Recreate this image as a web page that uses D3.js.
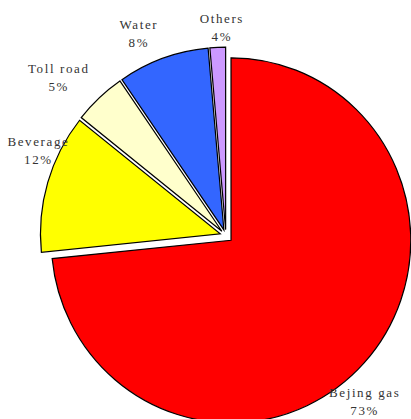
<!DOCTYPE html>
<html>
<head>
<meta charset="utf-8">
<script src="https://cdn.jsdelivr.net/npm/d3@7"></script>
<style>
  body { margin: 0; background: #fff; }
  svg { display: block; }
</style>
</head>
<body>
<div id="chart"></div>
<script>
// slices clockwise from 12 o'clock
const categories = ["Bejing gas", "Beverage", "Toll road", "Water", "Others"];
const shares = [73.4, 12.3, 4.7, 8.2, 1.4];           // share of the circle as drawn
const pctLabels = ["73%", "12%", "5%", "8%", "4%"];   // labels as printed
const colors = ["#FF0000", "#FFFF00", "#FFFFCC", "#3366FF", "#CC99FF"];

const width = 411, height = 419;
const cx = 225.9, cy = 235.6, radius = 182.5;
const squeeze = 0.985; // the original pie is a touch narrower than tall
const explode = [7, 6, 6, 6, 6];

// label placement (degrees from the slice middle, distance from centre)
const labelTurn = [7.9, 8.1, -3.6, -3.5, 1.4];
const labelDist = [216, 206, 230, 220, 208];

const svg = d3.select("#chart")
  .append("svg")
  .attr("width", width)
  .attr("height", height);

const g = svg.append("g")
  .attr("transform", "translate(" + cx + "," + cy + ")");

const pieG = g.append("g")
  .attr("transform", "scale(" + squeeze + ",1)");

const pie = d3.pie().sort(null).value(d => d.value);
const arc = d3.arc().innerRadius(0).outerRadius(radius);

const slices = pie(categories.map((c, i) => ({ name: c, value: shares[i], i: i })));

// polar helper, angle in radians clockwise from up
const polar = (a, r) => [Math.sin(a) * r, -Math.cos(a) * r];

pieG.selectAll(".slice")
  .data(slices)
  .enter().append("path")
  .attr("class", "slice")
  .attr("transform", d => {
    const mid = (d.startAngle + d.endAngle) / 2;
    const p = polar(mid, explode[d.data.i]);
    return "translate(" + p[0] + "," + p[1] + ")";
  })
  .attr("d", arc)
  .attr("vector-effect", "non-scaling-stroke")
  .style("fill", d => colors[d.data.i])
  .style("stroke", "#000")
  .style("stroke-width", 1.2)
  .style("stroke-linejoin", "miter");

// labels
const labels = g.selectAll(".label")
  .data(slices)
  .enter().append("text")
  .attr("class", "label")
  .attr("text-anchor", "middle")
  .style("font-family", "'Liberation Serif', serif")
  .style("font-size", "13px")
  .style("letter-spacing", "1.6px")
  .style("fill", "#333")
  .attr("transform", d => {
    const mid = (d.startAngle + d.endAngle) / 2 + labelTurn[d.data.i] * Math.PI / 180;
    const p = polar(mid, labelDist[d.data.i]);
    return "translate(" + p[0] + "," + p[1] + ")";
  });

labels.append("tspan")
  .attr("x", 0)
  .attr("y", -9)
  .attr("dy", "0.35em")
  .text(d => d.data.name);

labels.append("tspan")
  .attr("x", 0)
  .attr("y", 9)
  .attr("dy", "0.35em")
  .text(d => pctLabels[d.data.i]);
</script>
</body>
</html>
